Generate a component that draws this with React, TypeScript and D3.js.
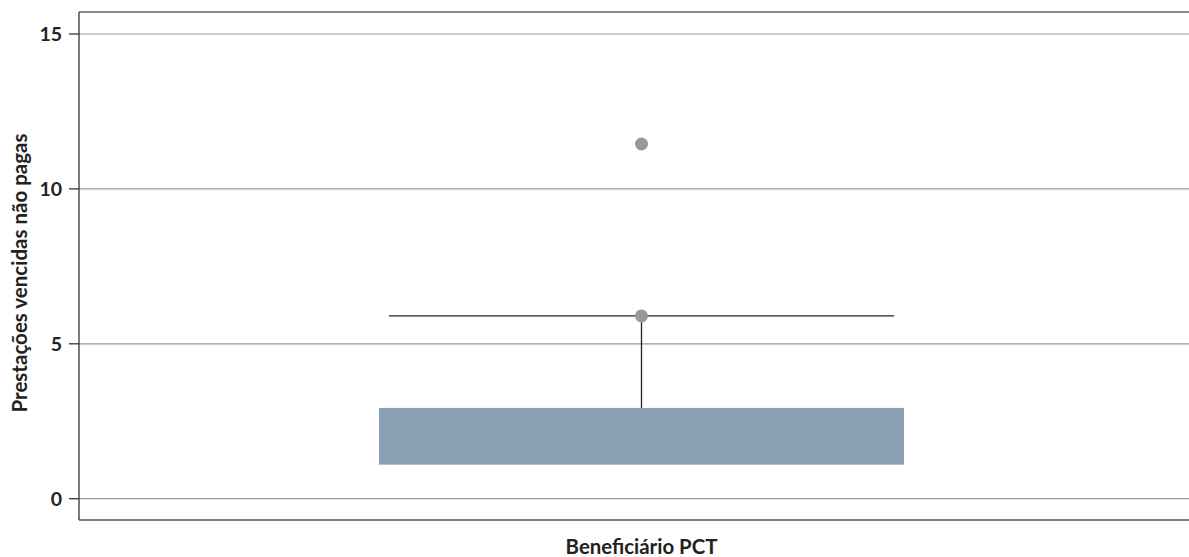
import React from "react";
import * as d3 from "d3";

// Box plot summary for the single category
const categories = ["Beneficiário PCT"];
const q1Values = [1.1];
const q3Values = [2.93];
const medianValues = [2.93];
const whiskerHigh = [5.9];
const whiskerLow = [1.1];
const outliers = [[5.9, 11.45]];
const yTicks = [0, 5, 10, 15];

const W = 1189;
const H = 557;
const left = 79;
const plotRight = 1204;
const top = 12;
const bottom = 520;

export default function App() {
  const y = d3.scaleLinear().domain([0, 15]).range([498.7, 34]);
  const x = d3.scaleBand().domain(categories).range([left, plotRight]).paddingInner(0).paddingOuter(0);
  const font = "Lato, 'Open Sans', sans-serif";

  return (
    <svg width={W} height={H} style={{ position: "absolute", left: 0, top: 0, display: "block", background: "#fff" }}>
      {/* horizontal grid */}
      {yTicks.map((t) => (
        <line key={"g" + t} x1={left} x2={W} y1={y(t)} y2={y(t)} stroke="#9a9a9a" strokeWidth={1.2} />
      ))}
      {/* frame */}
      <line x1={left} x2={W} y1={top} y2={top} stroke="#666" strokeWidth={1.3} />
      <line x1={left} x2={W} y1={bottom} y2={bottom} stroke="#555" strokeWidth={1.5} />
      <line x1={left} x2={left} y1={top} y2={bottom} stroke="#333" strokeWidth={1.3} />
      {/* y ticks */}
      {yTicks.map((t) => (
        <g key={"t" + t}>
          <line x1={69} x2={left} y1={y(t)} y2={y(t)} stroke="#333" strokeWidth={1.3} />
          <text x={62} y={y(t)} dy="0.36em" textAnchor="end" fontFamily={font} fontWeight={700} fontSize={19.5} fill="#222">
            {t}
          </text>
        </g>
      ))}
      {categories.map((c, i) => {
        const bw = x.bandwidth();
        const cx = (x(c) as number) + bw / 2;
        const boxW = 525;
        const capW = 505;
        return (
          <g key={c}>
            <rect x={cx - boxW / 2} y={y(q3Values[i])} width={boxW} height={y(q1Values[i]) - y(q3Values[i])} fill="#8a9fb3" />
            <line x1={cx} x2={cx} y1={y(q3Values[i])} y2={y(whiskerHigh[i])} stroke="#222" strokeWidth={1.3} />
            <line x1={cx - capW / 2} x2={cx + capW / 2} y1={y(whiskerHigh[i])} y2={y(whiskerHigh[i])} stroke="#222" strokeWidth={1.3} />
            <line x1={cx} x2={cx} y1={y(q1Values[i])} y2={y(whiskerLow[i])} stroke="#222" strokeWidth={1.3} />
            {medianValues[i] !== q3Values[i] && medianValues[i] !== q1Values[i] && (
              <line x1={cx - boxW / 2} x2={cx + boxW / 2} y1={y(medianValues[i])} y2={y(medianValues[i])} stroke="#222" />
            )}
            {outliers[i].map((v, j) => (
              <circle key={j} cx={cx} cy={y(v)} r={6.5} fill="#98989c" />
            ))}
            <text x={cx} y={554} textAnchor="middle" fontFamily={font} fontWeight={700} fontSize={20.4} fill="#222">
              {c}
            </text>
          </g>
        );
      })}
      <text
        transform={`translate(26.5, 273) rotate(-90)`}
        textAnchor="middle"
        fontFamily={font}
        fontWeight={700}
        fontSize={20.5}
        fill="#222"
      >
        Prestações vencidas não pagas
      </text>
    </svg>
  );
}
